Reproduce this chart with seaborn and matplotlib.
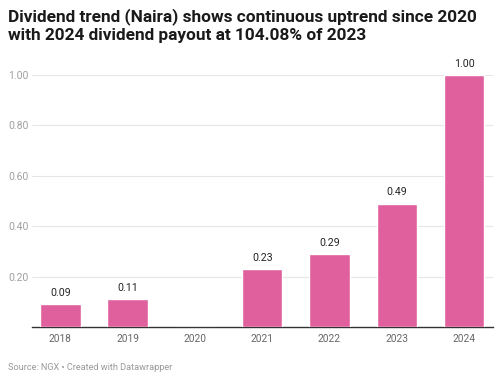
import pandas as pd
import seaborn as sns
import matplotlib.pyplot as plt

# Dividend per share (Naira)
years = ['2018', '2019', '2020', '2021', '2022', '2023', '2024']
dividends = [0.09, 0.11, 0.0, 0.23, 0.29, 0.49, 1.00]
labels = ['0.09', '0.11', '', '0.23', '0.29', '0.49', '1.00']
yticks = [0.2, 0.4, 0.6, 0.8, 1.0]

df = pd.DataFrame({'year': years, 'dividend': dividends})

sns.set_theme(style='white')
plt.rcParams['font.family'] = ['Roboto', 'DejaVu Sans']

fig = plt.figure(figsize=(5.01, 3.83), dpi=100)
ax = fig.add_axes([0.064, 0.146, 0.92, 0.658])

sns.barplot(data=df, x='year', y='dividend', color='#e0609e', saturation=1,
            width=0.6, ax=ax, zorder=3)

ax.set_ylim(0, 1.0)
ax.set_xlim(-0.42, 6.43)
ax.set_yticks(yticks)
ax.set_yticklabels([f'{t:.2f}' for t in yticks], color='#a0a0a0', fontsize=7.5, ha='left')
ax.tick_params(axis='y', length=0, pad=17)
ax.tick_params(axis='x', length=0, pad=5, labelsize=7.3, labelcolor='#666666')
ax.grid(axis='y', color='#e6e6e6', linewidth=0.8, zorder=0)
ax.set_xlabel('')
ax.set_ylabel('')
for s in ['top', 'right', 'left']:
    ax.spines[s].set_visible(False)
ax.spines['bottom'].set_color('#333333')
ax.spines['bottom'].set_linewidth(1.0)

# value labels above bars
for i, (v, lab) in enumerate(zip(dividends, labels)):
    if lab:
        ax.text(i, v + 0.025, lab, ha='center', va='bottom', fontsize=7.7,
                color='#222222', clip_on=False)

fig.text(0.016, 0.978, 'Dividend trend (Naira) shows continuous uptrend since 2020\n'
         'with 2024 dividend payout at 104.08% of 2023',
         ha='left', va='top', fontsize=12.4, fontweight='bold', color='#1a1a1a',
         linespacing=1.2)
fig.text(0.016, 0.04, 'Source: NGX • Created with Datawrapper', ha='left', va='center',
         fontsize=6.6, color='#999999')

fig.savefig('out.png', dpi=100)
